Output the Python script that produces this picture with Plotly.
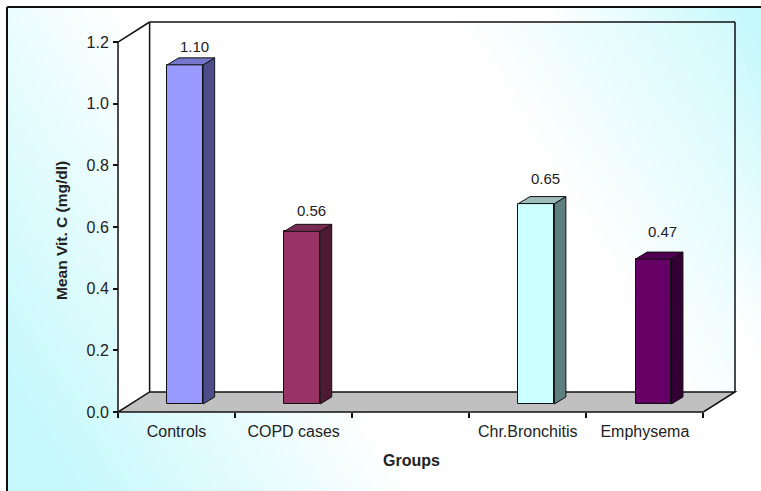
import base64
import struct
import zlib

import numpy as np
import plotly.graph_objects as go

# ---- data -------------------------------------------------------------
categories = ["Controls", "COPD cases", "", "Chr.Bronchitis", "Emphysema"]
groups = ["Controls", "COPD cases", "Chr.Bronchitis", "Emphysema"]
slots = [0, 1, 3, 4]                      # category slot of each group (slot 2 left empty)
values = [1.10, 0.56, 0.65, 0.47]         # mean vitamin C, mg/dl
y_ticks = [0.0, 0.2, 0.4, 0.6, 0.8, 1.0, 1.2]

face_colors = ["#9999ff", "#993366", "#ccffff", "#660066"]
top_colors = ["#7676cc", "#7a2952", "#9dbdbd", "#520052"]
side_colors = ["#4d4d8c", "#4d1a33", "#5f7f7f", "#330033"]

# ---- geometry of the 3-D box -------------------------------------------
W, H = 761, 491
X_MIN, Y_TOP = -0.5, 1.2
FDX, FDY = 0.27, 0.065                    # floor depth offset (axis units)
X_MAX, Y_MAX = 4.5 + FDX, Y_TOP + FDY
SX = 117.08                               # px per x unit
SY = 308.3                                # px per y unit
PAD = 4                                   # px of slack so edge lines are not clipped

AX_L = 118                                # pixel x of the front value axis
AX_B = 412                                # pixel y of the front floor edge
M_L = AX_L - PAD
M_B = H - AX_B - PAD
PW = (X_MAX - X_MIN) * SX + 2 * PAD
PH = Y_MAX * SY + 2 * PAD
M_R = W - M_L - PW
M_T = H - M_B - PH

BAR_SHIFT, BAR_W, BAR_BASE = 0.074, 0.307, 0.026
BAR_DX, BAR_DY = 0.098, 0.0227
LABEL_DX = 0.15
EDGE = "#111111"
FONT = "Liberation Sans, Arial, sans-serif"
TXT = "#222222"


def px(x):
    return AX_L + (x - X_MIN) * SX


def py(y):
    return AX_B - y * SY


def paper_x(p):
    return (p - M_L) / PW


def paper_y(p):
    return (H - M_B - p) / PH


# ---- background gradient (chart area + walls) --------------------------
def gradient_png():
    yy, xx = np.mgrid[0:H, 0:W].astype(float)
    proj = (xx - 0.61 * yy) / 1.17
    a_out = np.clip((95 - proj) / 290, 0, 1) + np.clip((proj - 460) / 170, 0, 1)
    a_wall = np.clip((proj - 380) / 300, 0, 1)

    xl, xb, xr, xf = px(X_MIN), px(X_MIN + FDX), px(X_MAX), px(4.5)
    y_top_front, y_top_back = py(Y_TOP), py(Y_MAX)
    y_front, y_back = py(0), py(FDY)
    top_edge = np.where(
        xx < xb, y_top_front + (xx - xl) / (xb - xl) * (y_top_back - y_top_front), y_top_back
    )
    bot_edge = np.where(
        xx > xf, y_front + (xx - xf) / (xr - xf) * (y_back - y_front), y_front
    )
    wall = (xx >= xl) & (xx <= xr) & (yy >= top_edge) & (yy <= bot_edge)
    a = np.clip(np.where(wall, a_wall, a_out), 0, 1)

    cyan = np.array([198, 249, 252], dtype=float)
    img = 255 * (1 - a[..., None]) + cyan * a[..., None]
    img[(xx < 7) | (yy < 7)] = 255
    img = img.astype(np.uint8)

    raw = b"".join(b"\x00" + img[r].tobytes() for r in range(H))

    def chunk(tag, data):
        c = struct.pack(">I", len(data)) + tag + data
        return c + struct.pack(">I", zlib.crc32(tag + data) & 0xFFFFFFFF)

    png = b"\x89PNG\r\n\x1a\n"
    png += chunk(b"IHDR", struct.pack(">IIBBBBB", W, H, 8, 2, 0, 0, 0))
    png += chunk(b"IDAT", zlib.compress(raw, 9))
    png += chunk(b"IEND", b"")
    return "data:image/png;base64," + base64.b64encode(png).decode()


fig = go.Figure()

# front faces of the columns
fig.add_trace(
    go.Bar(
        x=slots,
        y=values,
        base=BAR_BASE,
        width=BAR_W,
        offset=BAR_SHIFT - BAR_W / 2,
        marker=dict(color=face_colors, line=dict(color=EDGE, width=1)),
        showlegend=False,
        hoverinfo="skip",
    )
)

# side and top faces
for s, v, tc, sc in zip(slots, values, top_colors, side_colors):
    x0 = s + BAR_SHIFT - BAR_W / 2
    x1 = x0 + BAR_W
    top = BAR_BASE + v
    fig.add_trace(
        go.Scatter(
            x=[x1, x1 + BAR_DX, x1 + BAR_DX, x1, x1],
            y=[BAR_BASE, BAR_BASE + BAR_DY, top + BAR_DY, top, BAR_BASE],
            mode="lines",
            fill="toself",
            fillcolor=sc,
            line=dict(color=EDGE, width=1),
            showlegend=False,
            hoverinfo="skip",
        )
    )
    fig.add_trace(
        go.Scatter(
            x=[x0, x1, x1 + BAR_DX, x0 + BAR_DX, x0],
            y=[top, top, top + BAR_DY, top + BAR_DY, top],
            mode="lines",
            fill="toself",
            fillcolor=tc,
            line=dict(color=EDGE, width=1),
            showlegend=False,
            hoverinfo="skip",
        )
    )

# value labels above each column
annotations = []
for s, v in zip(slots, values):
    annotations.append(
        dict(
            x=s + LABEL_DX,
            y=BAR_BASE + v + BAR_DY,
            xref="x",
            yref="y",
            text=f"{v:.2f}",
            showarrow=False,
            xanchor="center",
            yanchor="middle",
            yshift=11 + 2.5 * s,
            font=dict(family=FONT, size=15, color=TXT),
        )
    )

annotations.append(
    dict(
        x=paper_x(62),
        y=paper_y(231),
        xref="paper",
        yref="paper",
        xanchor="center",
        yanchor="middle",
        text="<b>Mean Vit. C (mg/dl)</b>",
        textangle=-90,
        showarrow=False,
        font=dict(family=FONT, size=15.5, color=TXT),
    )
)
annotations.append(
    dict(
        x=paper_x(412),
        y=paper_y(460),
        xref="paper",
        yref="paper",
        xanchor="center",
        yanchor="middle",
        text="<b>Groups</b>",
        showarrow=False,
        font=dict(family=FONT, size=16, color=TXT),
    )
)

# floor, walls and outer frame
floor_path = (
    f"M {X_MIN},0 L 4.5,0 L {X_MAX},{FDY} L {X_MIN + FDX},{FDY} Z"
)
shapes = [
    dict(type="path", path=floor_path, xref="x", yref="y", fillcolor="#c0c0c0",
         line=dict(color=EDGE, width=1.5), layer="below"),
    dict(type="line", xref="x", yref="y", x0=X_MIN, y0=0, x1=X_MIN, y1=Y_TOP,
         line=dict(color=EDGE, width=1.5), layer="below"),
    dict(type="line", xref="x", yref="y", x0=X_MIN, y0=Y_TOP, x1=X_MIN + FDX, y1=Y_MAX,
         line=dict(color=EDGE, width=1.5), layer="below"),
    dict(type="line", xref="x", yref="y", x0=X_MIN + FDX, y0=FDY, x1=X_MIN + FDX, y1=Y_MAX,
         line=dict(color=EDGE, width=1.5), layer="below"),
    dict(type="line", xref="x", yref="y", x0=X_MIN + FDX, y0=Y_MAX, x1=X_MAX, y1=Y_MAX,
         line=dict(color=EDGE, width=1.5), layer="below"),
    dict(type="line", xref="x", yref="y", x0=X_MAX, y0=Y_MAX, x1=X_MAX, y1=FDY,
         line=dict(color=EDGE, width=1.5), layer="below"),
    dict(type="line", xref="paper", yref="paper", x0=paper_x(7), y0=paper_y(7),
         x1=paper_x(W), y1=paper_y(7), line=dict(color=EDGE, width=2)),
    dict(type="line", xref="paper", yref="paper", x0=paper_x(7), y0=paper_y(7),
         x1=paper_x(7), y1=paper_y(H), line=dict(color=EDGE, width=2)),
]

boundaries = [i - 0.5 for i in range(len(categories) + 1)]

fig.update_layout(
    width=W,
    height=H,
    margin=dict(l=M_L, r=M_R, t=M_T, b=M_B, pad=0),
    paper_bgcolor="white",
    plot_bgcolor="rgba(0,0,0,0)",
    showlegend=False,
    bargap=0,
    images=[
        dict(
            source=gradient_png(),
            xref="paper",
            yref="paper",
            x=paper_x(0),
            y=paper_y(0),
            sizex=W / PW,
            sizey=H / PH,
            xanchor="left",
            yanchor="top",
            sizing="stretch",
            layer="below",
        )
    ],
    shapes=shapes,
    annotations=annotations,
    xaxis=dict(
        range=[X_MIN - PAD / SX, X_MAX + PAD / SX],
        anchor="free",
        position=PAD / PH,
        showgrid=False,
        zeroline=False,
        showline=False,
        tickmode="array",
        tickvals=slots,
        ticktext=groups,
        ticks="",
        ticklabelstandoff=8,
        tickfont=dict(family=FONT, size=16, color=TXT),
        minor=dict(tickmode="array", tickvals=boundaries, ticks="outside",
                   ticklen=5, tickwidth=1.5, tickcolor=EDGE, showgrid=False),
    ),
    yaxis=dict(
        range=[-PAD / SY, Y_MAX + PAD / SY],
        anchor="free",
        position=PAD / PW,
        showgrid=False,
        zeroline=False,
        showline=False,
        tickmode="array",
        tickvals=y_ticks,
        ticktext=[f"{t:.1f}" for t in y_ticks],
        ticks="outside",
        ticklen=5,
        tickwidth=1.5,
        tickcolor=EDGE,
        ticklabelstandoff=1,
        tickfont=dict(family=FONT, size=16, color=TXT),
    ),
)

fig.write_html("out.html")
